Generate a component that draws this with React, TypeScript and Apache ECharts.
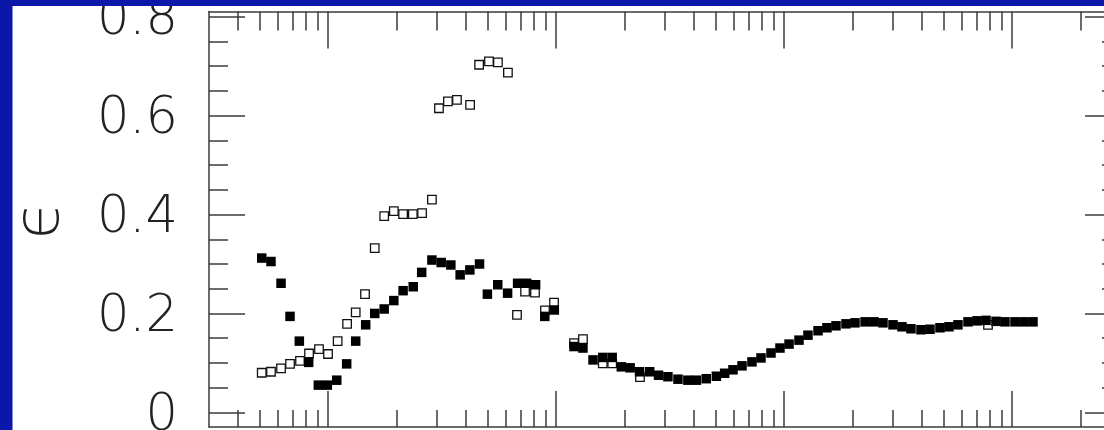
import React, { useEffect, useRef } from "react";
import * as echarts from "echarts";

// ---- data ----
const filledX = [5.11, 5.61, 6.21, 6.8, 7.47, 8.21, 9.05, 9.91, 10.9, 12.05, 13.2, 14.6, 16.0, 17.6, 19.4, 21.3, 23.6, 25.7, 28.5, 31.3, 34.5, 37.9, 41.8, 46.1, 49.9, 55.4, 61.2, 67.7, 74.2, 81.2, 89.1, 98.1,
  119.7, 131, 145, 160, 176, 193, 211, 232, 257, 281, 309, 342, 378, 412, 455, 504, 548, 596,
  653, 722, 791, 875, 958, 1050, 1161, 1271, 1407, 1540, 1687, 1866, 2044, 2262, 2476, 2712, 3000, 3285, 3598, 3980, 4359, 4821, 5280, 5783, 6398, 7008, 7675, 8490, 9298, 10285, 11263, 12336];
const filledY = [0.312, 0.305, 0.261, 0.194, 0.144, 0.101, 0.055, 0.055, 0.065, 0.098, 0.144, 0.177, 0.2, 0.209, 0.226, 0.246, 0.254, 0.283, 0.308, 0.303, 0.298, 0.278, 0.288, 0.3, 0.239, 0.258, 0.241, 0.261, 0.261, 0.258, 0.194, 0.207,
  0.133, 0.13, 0.106, 0.111, 0.111, 0.092, 0.09, 0.082, 0.082, 0.075, 0.072, 0.067, 0.065, 0.065, 0.068, 0.073, 0.079, 0.086,
  0.094, 0.102, 0.11, 0.12, 0.13, 0.138, 0.146, 0.156, 0.165, 0.171, 0.175, 0.179, 0.181, 0.183, 0.183, 0.181, 0.177, 0.173, 0.169, 0.167, 0.168, 0.171, 0.173, 0.177, 0.183, 0.185, 0.186, 0.184, 0.183, 0.183, 0.183, 0.183];

const openX = [5.11, 5.61, 6.21, 6.8, 7.52, 8.24, 9.11, 9.98, 11.0, 12.1, 13.2, 14.5, 16.0, 17.6, 19.4, 21.3, 23.5, 25.8, 28.5, 30.6, 33.5, 36.7, 41.9, 45.9, 50.7, 55.5, 61.4, 67.3, 73.0, 80.7, 89.3, 97.8, 119.7, 131, 160, 176, 233, 7831];
const openY = [0.08, 0.082, 0.089, 0.098, 0.104, 0.119, 0.128, 0.118, 0.144, 0.179, 0.202, 0.239, 0.332, 0.397, 0.407, 0.401, 0.401, 0.403, 0.43, 0.615, 0.629, 0.632, 0.622, 0.703, 0.71, 0.708, 0.687, 0.197, 0.244, 0.242, 0.206, 0.222, 0.14, 0.148, 0.099, 0.099, 0.071, 0.177];

const yMajorTicks = [0, 0.2, 0.4, 0.6, 0.8];
const yMinorTicks = [0.05, 0.1, 0.15, 0.25, 0.3, 0.35, 0.45, 0.5, 0.55, 0.65, 0.7, 0.75];
const xMajorTicks = [10, 100, 1000, 10000];
const xMinorTicks = [4, 5, 6, 7, 8, 9, 20, 30, 40, 50, 60, 70, 80, 90, 200, 300, 400, 500, 600, 700, 800, 900, 2000, 3000, 4000, 5000, 6000, 7000, 8000, 9000, 20000];
const yAxisName = "ϵ";

const X_MIN = 3;
const X_MAX = 30000;
const Y_MIN = -0.0297;
const Y_MAX = 0.8107;

const FONT = "DejaVu Sans";
const BLUE = "#0b17a8";

export default function App() {
  const ref = useRef<HTMLDivElement>(null);

  useEffect(() => {
    const chart = echarts.init(ref.current as HTMLDivElement, null, { renderer: "svg" });
    const lg = (v: number) => Math.log10(v);
    const lineStyle = { color: "#3a3a3a", width: 1.5 };

    const tickX = (position: string, values: number[], length: number, showLine: boolean) => ({
      type: "value",
      position,
      min: lg(X_MIN),
      max: lg(X_MAX),
      axisLine: { show: showLine, onZero: false, lineStyle },
      axisTick: { show: true, inside: true, length, customValues: values.map(lg), lineStyle },
      axisLabel: { show: false },
      splitLine: { show: false },
    });
    const tickY = (position: string, values: number[], length: number, showLine: boolean) => ({
      type: "value",
      position,
      min: Y_MIN,
      max: Y_MAX,
      axisLine: { show: showLine, onZero: false, lineStyle },
      axisTick: { show: true, inside: true, length, customValues: values, lineStyle },
      axisLabel: { show: false },
      splitLine: { show: false },
    });

    chart.setOption({
      animation: false,
      backgroundColor: "#ffffff",
      grid: { left: 209, top: 11.5, right: -17, bottom: 3, containLabel: false, outerBoundsMode: "none" },
      xAxis: [
        {
          type: "log",
          logBase: 10,
          position: "bottom",
          min: X_MIN,
          max: X_MAX,
          axisLine: { show: true, onZero: false, lineStyle },
          axisTick: { show: false },
          axisLabel: { show: false },
          splitLine: { show: false },
          minorTick: { show: false },
        },
        tickX("bottom", xMajorTicks, 36, false),
        tickX("bottom", xMinorTicks, 17, false),
        tickX("top", xMajorTicks, 37, true),
        tickX("top", xMinorTicks, 19, false),
      ],
      yAxis: [
        {
          type: "value",
          position: "left",
          min: Y_MIN,
          max: Y_MAX,
          axisLine: { show: true, onZero: false, lineStyle },
          axisTick: { show: true, inside: true, length: 36, customValues: yMajorTicks, lineStyle },
          axisLabel: {
            show: true,
            customValues: yMajorTicks,
            margin: 31,
            fontFamily: FONT,
            fontWeight: 200,
            fontSize: 51,
            color: "#222222",
            formatter: (v: number) => String(Math.round(v * 10) / 10),
          },
          splitLine: { show: false },
        },
        tickY("left", yMinorTicks, 19, false),
        tickY("right", yMajorTicks, 36, true),
        tickY("right", yMinorTicks, 19, false),
      ],
      series: [
        {
          type: "scatter",
          name: "open",
          xAxisIndex: 0,
          yAxisIndex: 0,
          symbol: "rect",
          symbolSize: 8.5,
          z: 2,
          itemStyle: { color: "#ffffff", borderColor: "#111111", borderWidth: 1.3, opacity: 1 },
          data: openX.map((x, i) => [x, openY[i]]),
        },
        {
          type: "scatter",
          name: "filled",
          xAxisIndex: 0,
          yAxisIndex: 0,
          symbol: "rect",
          symbolSize: 9.5,
          z: 3,
          itemStyle: { color: "#000000", opacity: 1 },
          data: filledX.map((x, i) => [x, filledY[i]]),
        },
      ],
      graphic: [
        { type: "rect", z: 100, shape: { x: 0, y: 0, width: 1104, height: 6 }, style: { fill: BLUE } },
        { type: "rect", z: 100, shape: { x: 0, y: 0, width: 12.5, height: 430 }, style: { fill: BLUE } },
        {
          type: "text",
          x: 36,
          y: 220,
          rotation: Math.PI / 2,
          z: 150,
          style: {
            text: yAxisName,
            fontFamily: FONT,
            fontWeight: 200,
            fontSize: 62,
            lineHeight: 30,
            fill: "#222222",
            align: "center",
            verticalAlign: "middle",
          },
        },
      ],
    });

    return () => chart.dispose();
  }, []);

  return (
    <div
      ref={ref}
      style={{ position: "fixed", left: 0, top: 0, width: 1104, height: 430, background: "#ffffff" }}
    />
  );
}
